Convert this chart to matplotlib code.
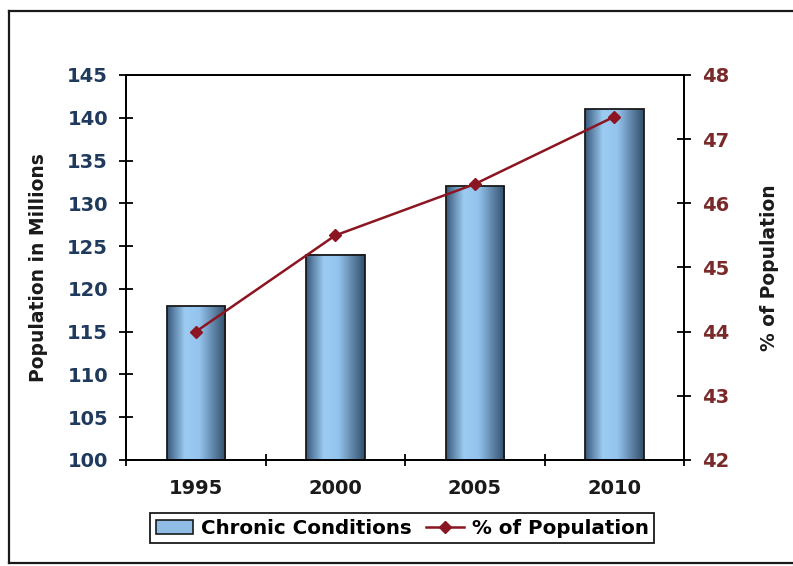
import numpy as np
import matplotlib
matplotlib.use('Agg')
import matplotlib.pyplot as plt
from matplotlib.colors import LinearSegmentedColormap
from matplotlib.patches import Patch
from matplotlib.lines import Line2D

years = ['1995', '2000', '2005', '2010']
chronic = [118, 124, 132, 141]
pct_pop = [44.0, 45.5, 46.3, 47.35]

navy = '#1f3a5c'
maroon = '#7a2a2a'
line_red = '#8b1520'

plt.rcParams['font.family'] = ['DejaVu Sans']

fig = plt.figure(figsize=(7.93, 5.66), dpi=100)
ax = fig.add_axes([0.159, 0.1873, 0.7036, 0.6802])

x = np.arange(len(years))
bars = ax.bar(x, chronic, width=0.42, facecolor='none', edgecolor='#1a1a1a',
              linewidth=1.3, zorder=3)

# horizontal gradient inside each bar
cmap = LinearSegmentedColormap.from_list(
    'barshade', [(0.0, '#3a5a7c'), (0.3, '#9ccbf2'), (0.55, '#94c4ee'), (1.0, '#34506d')])
grad = np.linspace(0, 1, 64).reshape(1, -1)
for b in bars:
    x0, w, h = b.get_x(), b.get_width(), b.get_height()
    ax.imshow(grad, cmap=cmap, extent=[x0, x0 + w, 100, h], aspect='auto',
              origin='lower', zorder=2)
ax.set_xlim(-0.5, 3.5)
ax.set_ylim(100, 145)
ax.set_yticks(np.arange(100, 146, 5))
ax.set_xticks(x)
ax.set_xticklabels(years)
ax.set_xticks(np.arange(-0.5, 3.6, 1), minor=True)
ax.tick_params(axis='x', which='major', length=0, pad=14, labelsize=14, labelcolor='#1a1a1a')
ax.tick_params(axis='x', which='minor', length=9, direction='inout', width=1.3)
ax.tick_params(axis='y', length=10, direction='inout', width=1.3, labelsize=14,
               labelcolor=navy, pad=8)
for lbl in ax.get_xticklabels() + ax.get_yticklabels():
    lbl.set_fontweight('bold')
for s in ax.spines.values():
    s.set_linewidth(1.3)
ax.set_ylabel('Population in Millions', fontsize=13.5, fontweight='bold', color='#1a1a1a',
              labelpad=14)

ax2 = ax.twinx()
ax2.plot(x, pct_pop, color=line_red, linewidth=1.8, marker='D', markersize=6.5,
         markerfacecolor=line_red, markeredgecolor=line_red, zorder=5)
ax2.set_ylim(42, 48)
ax2.set_yticks(np.arange(42, 49, 1))
ax2.tick_params(axis='y', length=10, direction='inout', width=1.3, labelsize=14,
                labelcolor=maroon, pad=8)
for lbl in ax2.get_yticklabels():
    lbl.set_fontweight('bold')
ax2.set_ylabel('% of Population', fontsize=13.5, fontweight='bold', color='#1a1a1a',
               labelpad=22)
for s in ax2.spines.values():
    s.set_linewidth(1.3)

handles = [Patch(facecolor='#8fbde6', edgecolor='#1a1a1a', linewidth=1.2),
           Line2D([], [], color=line_red, linewidth=1.8, marker='D', markersize=6,
                  markerfacecolor=line_red, markeredgecolor=line_red)]
leg = fig.legend(handles, ['Chronic Conditions', '% of Population'], ncol=2,
                 loc='center', bbox_to_anchor=(0.507, 0.0671), frameon=True, fancybox=False,
                 prop={'weight': 'bold', 'size': 14.3},
                 handlelength=1.9, handletextpad=0.4, columnspacing=0.7,
                 borderpad=0.3)
leg.get_frame().set_linewidth(1.3)
leg.get_frame().set_edgecolor('#1a1a1a')
leg.get_frame().set_alpha(1)

# outer chart-area border (left, top, bottom)
fig.add_artist(Line2D([9 / 793, 9 / 793], [1 - 11 / 566, 1 - 563 / 566],
                      transform=fig.transFigure, color='#1a1a1a', linewidth=1.6))
fig.add_artist(Line2D([9 / 793, 1.0], [1 - 11 / 566, 1 - 11 / 566],
                      transform=fig.transFigure, color='#1a1a1a', linewidth=1.6))
fig.add_artist(Line2D([9 / 793, 1.0], [1 - 563 / 566, 1 - 563 / 566],
                      transform=fig.transFigure, color='#1a1a1a', linewidth=1.6))

fig.savefig('out.png', dpi=100)
